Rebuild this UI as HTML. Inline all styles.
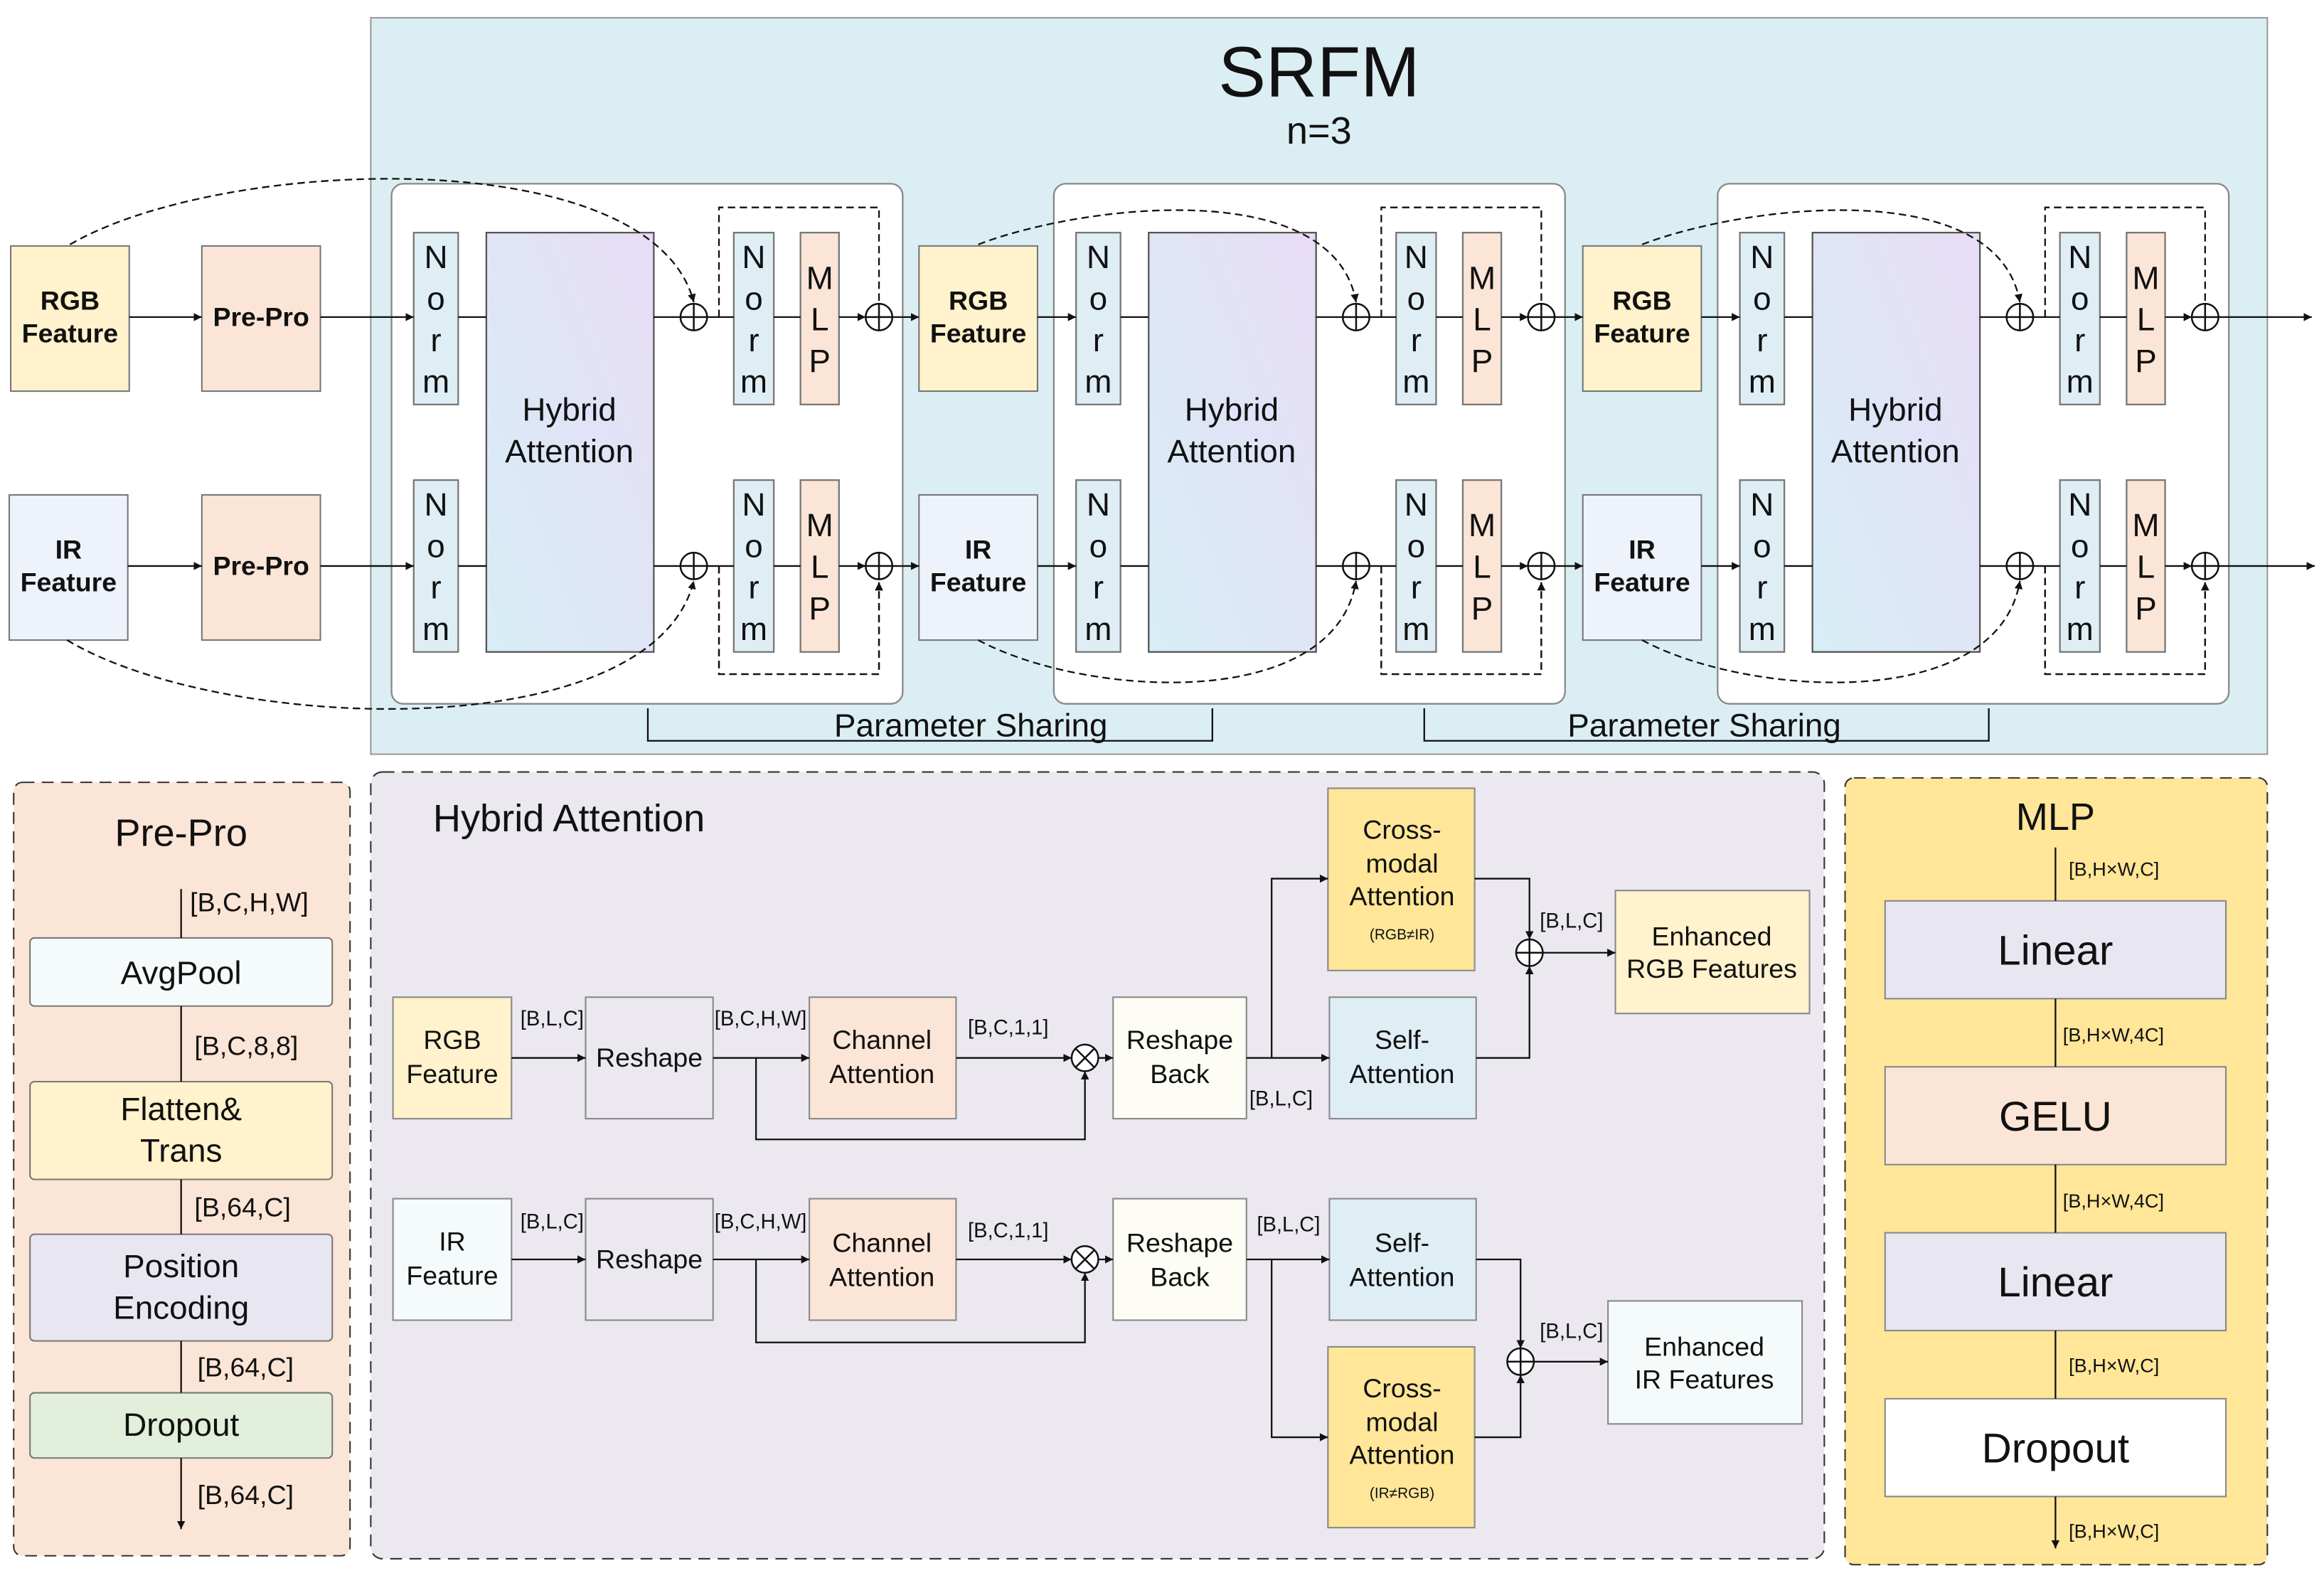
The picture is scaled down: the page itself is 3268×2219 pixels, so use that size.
<!DOCTYPE html>
<html><head><meta charset="utf-8"><style>
html,body{margin:0;padding:0;background:#fff}
svg{display:block}
text{font-family:"Liberation Sans",Arial,sans-serif;fill:#111}
</style></head><body>
<svg width="3268" height="2219" viewBox="0 0 1568 1065" xmlns="http://www.w3.org/2000/svg">
<defs>
<marker id="a" viewBox="0 0 10 10" refX="10" refY="5" markerWidth="5" markerHeight="5" orient="auto"><path d="M0,0 L10,5 L0,10 z" fill="#111"/></marker>
<linearGradient id="ha" x1="0" y1="1" x2="1" y2="0"><stop offset="0" stop-color="#d7eef6"/><stop offset="1" stop-color="#e8dcf6"/></linearGradient>
<g id="plus"><circle r="9" fill="#fff" stroke="#111" stroke-width="1.2"/><path d="M-9,0H9M0,-9V9" stroke="#111" stroke-width="1.2"/></g>
<g id="otimes"><circle r="9" fill="#fff" stroke="#111" stroke-width="1.2"/><path d="M-6.4,-6.4L6.4,6.4M-6.4,6.4L6.4,-6.4" stroke="#111" stroke-width="1.2"/></g>
<g id="norm"><rect x="0" y="0" width="30" height="116" fill="#deeef4" stroke="#777"/><text x="15" y="24" font-size="22" text-anchor="middle">N</text><text x="15" y="52" font-size="22" text-anchor="middle">o</text><text x="15" y="80" font-size="22" text-anchor="middle">r</text><text x="15" y="108" font-size="22" text-anchor="middle">m</text></g>
<g id="norms"><rect x="0" y="0" width="27" height="116" fill="#deeef4" stroke="#777"/><text x="13.5" y="24" font-size="22" text-anchor="middle">N</text><text x="13.5" y="52" font-size="22" text-anchor="middle">o</text><text x="13.5" y="80" font-size="22" text-anchor="middle">r</text><text x="13.5" y="108" font-size="22" text-anchor="middle">m</text></g>
<g id="mlp"><rect x="0" y="0" width="26" height="116" fill="#fbe5d6" stroke="#777"/><text x="13" y="38" font-size="22" text-anchor="middle">M</text><text x="13" y="66" font-size="22" text-anchor="middle">L</text><text x="13" y="94" font-size="22" text-anchor="middle">P</text></g>
<g id="block" stroke-width="1.1">
<rect x="264" y="124" width="345" height="351" rx="8" fill="#fff" stroke="#888"/>
<use href="#norm" x="279" y="157"/><use href="#norm" x="279" y="324"/>
<rect x="328" y="157" width="113" height="283" fill="url(#ha)" stroke="#555"/>
<text x="384" y="284" font-size="22" text-anchor="middle">Hybrid</text>
<text x="384" y="312" font-size="22" text-anchor="middle">Attention</text>
<path d="M485,214V140H593V203M485,382V455H593V393" fill="none" stroke="#111" stroke-dasharray="5,3" marker-end="url(#a)"/>
<path d="M485,382V455H593V393" fill="none" stroke="#111" stroke-dasharray="5,3" marker-end="url(#a)"/>
<use href="#norms" x="495" y="157"/><use href="#norms" x="495" y="324"/>
<use href="#mlp" x="540" y="157"/><use href="#mlp" x="540" y="324"/>
<g stroke="#111" marker-end="url(#a)">
<path d="M309,214H328M441,214H459M477,214H495M522,214H540M566,214H584"/>
<path d="M309,382H328M441,382H459M477,382H495M522,382H540M566,382H584"/>
</g>
<use href="#plus" x="468" y="214"/><use href="#plus" x="468" y="382"/>
<use href="#plus" x="593" y="214"/><use href="#plus" x="593" y="382"/>
</g>
</defs>

<!-- SRFM -->
<rect x="250" y="12" width="1280" height="497" fill="#dbeef3" stroke="#999"/>
<text x="890" y="65" font-size="48" text-anchor="middle">SRFM</text>
<text x="890" y="97" font-size="26" text-anchor="middle">n=3</text>

<use href="#block"/>
<use href="#block" x="447"/>
<use href="#block" x="895"/>

<!-- left inputs -->
<g stroke="#777">
<rect x="7" y="166" width="80" height="98" fill="#fff2cc"/>
<rect x="136" y="166" width="80" height="98" fill="#fbe5d6"/>
<rect x="6" y="334" width="80" height="98" fill="#eef2fb"/>
<rect x="136" y="334" width="80" height="98" fill="#fbe5d6"/>
<rect x="620" y="166" width="80" height="98" fill="#fff2cc"/>
<rect x="620" y="334" width="80" height="98" fill="#eef2fb"/>
<rect x="1068" y="166" width="80" height="98" fill="#fff2cc"/>
<rect x="1068" y="334" width="80" height="98" fill="#eef2fb"/>
</g>
<g font-size="18" font-weight="bold" text-anchor="middle">
<text x="47" y="209">RGB</text><text x="47" y="231">Feature</text>
<text x="176" y="220">Pre-Pro</text>
<text x="46" y="377">IR</text><text x="46" y="399">Feature</text>
<text x="176" y="388">Pre-Pro</text>
<text x="660" y="209">RGB</text><text x="660" y="231">Feature</text>
<text x="660" y="377">IR</text><text x="660" y="399">Feature</text>
<text x="1108" y="209">RGB</text><text x="1108" y="231">Feature</text>
<text x="1108" y="377">IR</text><text x="1108" y="399">Feature</text>
</g>
<g stroke="#111" stroke-width="1.1" marker-end="url(#a)" fill="none">
<path d="M87,214H136"/><path d="M216,214H279"/>
<path d="M86,382H136"/><path d="M216,382H279"/>
<path d="M602,214H620"/><path d="M700,214H726"/>
<path d="M602,382H620"/><path d="M700,382H726"/>
<path d="M1049,214H1068"/><path d="M1148,214H1174"/>
<path d="M1049,382H1068"/><path d="M1148,382H1174"/>
<path d="M1497,214H1560"/><path d="M1497,382H1562"/>
</g>
<g stroke="#111" stroke-width="1.1" stroke-dasharray="5,3" fill="none" marker-end="url(#a)">
<path d="M47,165C150,105 440,95 468,204"/>
<path d="M45,432C150,495 440,505 468,392"/>
<path d="M660,165C730,138 900,118 915,204"/>
<path d="M660,432C730,470 900,482 915,392"/>
<path d="M1108,165C1178,138 1348,118 1363,204"/>
<path d="M1108,432C1178,470 1348,482 1363,392"/>
</g>
<path d="M437,478V500H818V478M961,478V500H1342V478" fill="none" stroke="#111" stroke-width="1.1"/>
<text x="655" y="497" font-size="22" text-anchor="middle">Parameter Sharing</text>
<text x="1150" y="497" font-size="22" text-anchor="middle">Parameter Sharing</text>

<!-- Pre-Pro panel -->
<rect x="9" y="528" width="227" height="522" rx="6" fill="#fbe5d6" stroke="#333" stroke-dasharray="8,5"/>
<text x="122" y="571" font-size="26" text-anchor="middle">Pre-Pro</text>
<g stroke="#777">
<rect x="20" y="633" width="204" height="46" rx="3" fill="#f5fbfb"/>
<rect x="20" y="730" width="204" height="66" rx="3" fill="#fff2cc"/>
<rect x="20" y="833" width="204" height="72" rx="3" fill="#e8e6f0"/>
<rect x="20" y="940" width="204" height="44" rx="3" fill="#e2efda"/>
</g>
<g font-size="22" text-anchor="middle">
<text x="122" y="664">AvgPool</text>
<text x="122" y="756">Flatten&amp;</text><text x="122" y="784">Trans</text>
<text x="122" y="862">Position</text><text x="122" y="890">Encoding</text>
<text x="122" y="969">Dropout</text>
</g>
<g stroke="#111" stroke-width="1.1" marker-end="url(#a)">
<path d="M122,600V633M122,679V730M122,796V833M122,905V940M122,984V1032"/>
</g>
<g font-size="18">
<text x="128" y="615">[B,C,H,W]</text><text x="131" y="712">[B,C,8,8]</text>
<text x="131" y="821">[B,64,C]</text><text x="133" y="929">[B,64,C]</text><text x="133" y="1015">[B,64,C]</text>
</g>

<!-- Hybrid Attention panel -->
<rect x="250" y="521" width="981" height="531" rx="8" fill="#ebe8f0" stroke="#333" stroke-dasharray="8,5"/>
<text x="292" y="561" font-size="26">Hybrid Attention</text>
<g stroke="#888">
<rect x="265" y="673" width="80" height="82" fill="#fff2cc"/>
<rect x="395" y="673" width="86" height="82" fill="#ebe8f0"/>
<rect x="546" y="673" width="99" height="82" fill="#fbe5d6"/>
<rect x="751" y="673" width="90" height="82" fill="#fdfdf5"/>
<rect x="897" y="673" width="99" height="82" fill="#deeef4"/>
<rect x="896" y="532" width="99" height="123" fill="#ffe699"/>
<rect x="1090" y="601" width="131" height="83" fill="#fff2cc"/>
<rect x="265" y="809" width="80" height="82" fill="#f5fbfb"/>
<rect x="395" y="809" width="86" height="82" fill="#ebe8f0"/>
<rect x="546" y="809" width="99" height="82" fill="#fbe5d6"/>
<rect x="751" y="809" width="90" height="82" fill="#fdfdf5"/>
<rect x="897" y="809" width="99" height="82" fill="#deeef4"/>
<rect x="896" y="909" width="99" height="122" fill="#ffe699"/>
<rect x="1085" y="878" width="131" height="83" fill="#f5fbfb"/>
</g>
<g font-size="18" text-anchor="middle">
<text x="305" y="708">RGB</text><text x="305" y="731">Feature</text>
<text x="438" y="720">Reshape</text>
<text x="595" y="708">Channel</text><text x="595" y="731">Attention</text>
<text x="796" y="708">Reshape</text><text x="796" y="731">Back</text>
<text x="946" y="708">Self-</text><text x="946" y="731">Attention</text>
<text x="946" y="566">Cross-</text><text x="946" y="589">modal</text><text x="946" y="611">Attention</text>
<text x="946" y="634" font-size="10">(RGB≠IR)</text>
<text x="1155" y="638">Enhanced</text><text x="1155" y="660">RGB Features</text>
<text x="305" y="844">IR</text><text x="305" y="867">Feature</text>
<text x="438" y="856">Reshape</text>
<text x="595" y="845">Channel</text><text x="595" y="868">Attention</text>
<text x="796" y="845">Reshape</text><text x="796" y="868">Back</text>
<text x="946" y="845">Self-</text><text x="946" y="868">Attention</text>
<text x="946" y="943">Cross-</text><text x="946" y="966">modal</text><text x="946" y="988">Attention</text>
<text x="946" y="1011" font-size="10">(IR≠RGB)</text>
<text x="1150" y="915">Enhanced</text><text x="1150" y="937">IR Features</text>
</g>
<g stroke="#111" stroke-width="1.1" fill="none" marker-end="url(#a)">
<path d="M345,714H395"/><path d="M481,714H546"/><path d="M645,714H723"/>
<path d="M510,714V769H732V723"/>
<path d="M741,714H751"/>
<path d="M841,714H897"/><path d="M858,714V593H896"/>
<path d="M995,593H1032V634"/><path d="M996,714H1032V652"/>
<path d="M1041,643H1090"/>
<path d="M345,850H395"/><path d="M481,850H546"/><path d="M645,850H723"/>
<path d="M510,850V906H732V859"/>
<path d="M741,850H751"/>
<path d="M841,850H897"/><path d="M858,850V970H896"/>
<path d="M996,850H1026V910"/><path d="M995,970H1026V928"/>
<path d="M1035,919H1085"/>
</g>
<use href="#otimes" x="732" y="714"/><use href="#otimes" x="732" y="850"/>
<use href="#plus" x="1032" y="643"/><use href="#plus" x="1026" y="919"/>
<g font-size="14">
<text x="351" y="692">[B,L,C]</text><text x="482" y="692">[B,C,H,W]</text><text x="653" y="698">[B,C,1,1]</text>
<text x="843" y="746">[B,L,C]</text><text x="1039" y="626">[B,L,C]</text>
<text x="351" y="829">[B,L,C]</text><text x="482" y="829">[B,C,H,W]</text><text x="653" y="835">[B,C,1,1]</text>
<text x="848" y="831">[B,L,C]</text><text x="1039" y="903">[B,L,C]</text>
</g>

<!-- MLP panel -->
<rect x="1245" y="525" width="285" height="531" rx="6" fill="#ffe699" stroke="#333" stroke-dasharray="8,5"/>
<text x="1387" y="560" font-size="26" text-anchor="middle">MLP</text>
<g stroke="#888">
<rect x="1272" y="608" width="230" height="66" fill="#e8e6f0"/>
<rect x="1272" y="720" width="230" height="66" fill="#fbe5d6"/>
<rect x="1272" y="832" width="230" height="66" fill="#e8e6f0"/>
<rect x="1272" y="944" width="230" height="66" fill="#fff"/>
</g>
<g font-size="28" text-anchor="middle">
<text x="1387" y="651">Linear</text><text x="1387" y="763">GELU</text>
<text x="1387" y="875">Linear</text><text x="1387" y="987">Dropout</text>
</g>
<g stroke="#111" stroke-width="1.1" marker-end="url(#a)">
<path d="M1387,572V608M1387,674V720M1387,786V832M1387,898V944M1387,1010V1045"/>
</g>
<g font-size="13">
<text x="1396" y="591">[B,H×W,C]</text><text x="1392" y="703">[B,H×W,4C]</text>
<text x="1392" y="815">[B,H×W,4C]</text><text x="1396" y="926">[B,H×W,C]</text><text x="1396" y="1038">[B,H×W,C]</text>
</g>
</svg>
</body></html>
